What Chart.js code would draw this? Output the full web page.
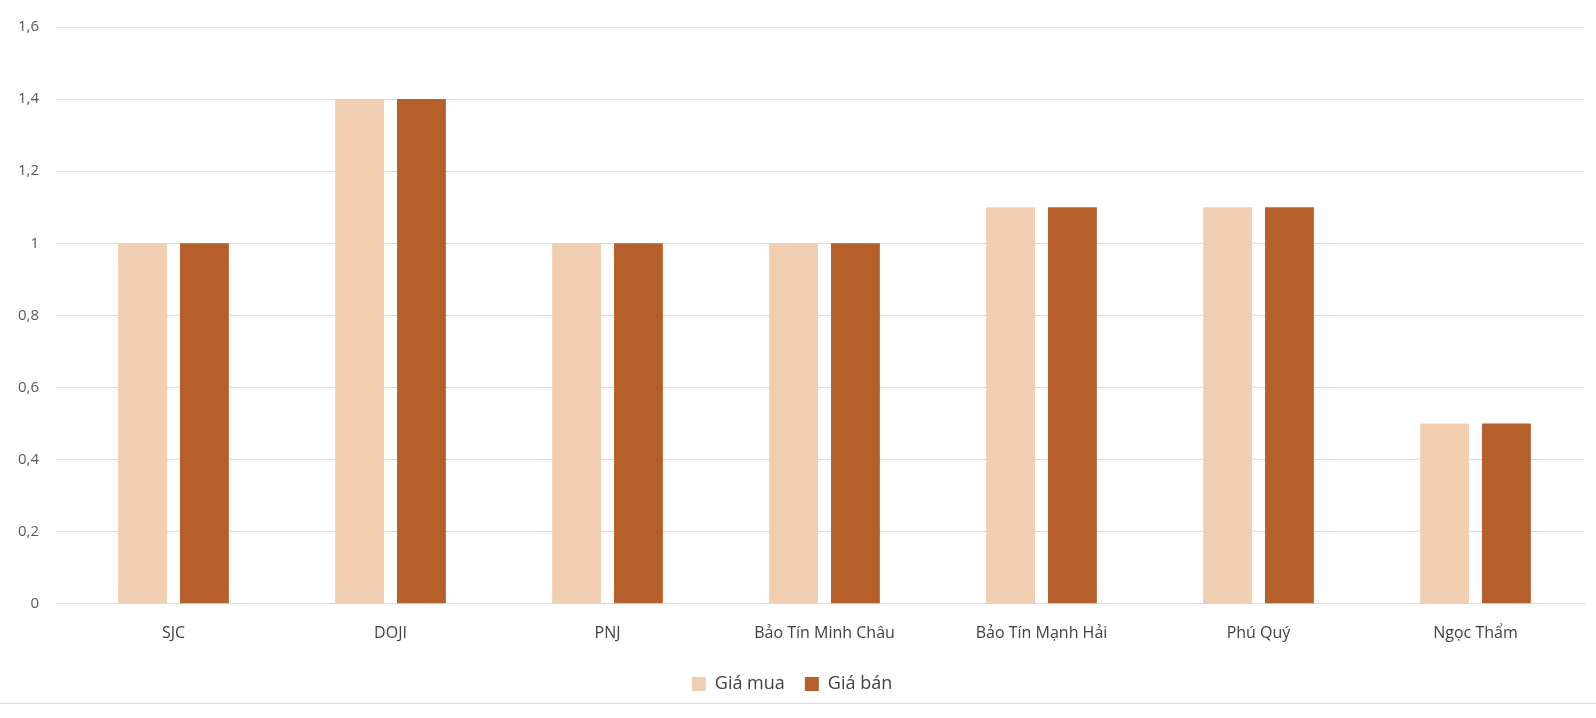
<!DOCTYPE html>
<html><head><meta charset="utf-8">
<script src="https://cdn.jsdelivr.net/npm/chart.js@4"></script>
<style>html,body{margin:0;padding:0;background:#fff}#w{width:1596px;height:718px;position:relative}#b{position:absolute;left:0;right:0;top:703px;border-top:1px solid #d9d9d9}canvas{display:block}</style>
</head><body><div id="w"><canvas id="c" width="1596" height="703"></canvas><div id="b"></div></div>
<script>
const categories=["SJC","DOJI","PNJ","Bảo Tín Minh Châu","Bảo Tín Mạnh Hải","Phú Quý","Ngọc Thẩm"];
const giaMua=[1,1.4,1,1,1.1,1.1,0.5];
const giaBan=[1,1.4,1,1,1.1,1.1,0.5];
const yTicks=[0,0.2,0.4,0.6,0.8,1,1.2,1.4,1.6];
Chart.defaults.font.family="'Open Sans', sans-serif";
Chart.defaults.font.size=15;
Chart.defaults.color="#595959";
new Chart(document.getElementById('c'),{type:'bar',
data:{labels:categories,datasets:[
{label:'Giá mua',data:giaMua,backgroundColor:'#F2CEB0',categoryPercentage:0.57,barPercentage:0.79},
{label:'Giá bán',data:giaBan,backgroundColor:'#B5602A',categoryPercentage:0.57,barPercentage:0.79}]},
options:{responsive:false,animation:false,
layout:{padding:{left:0,right:12,top:3,bottom:0}},
plugins:{legend:{position:'bottom',labels:{boxWidth:14,boxHeight:14,padding:20,font:{size:18},color:'#404040'}},tooltip:{enabled:false}},
scales:{
x:{grid:{display:false},border:{color:'#d9d9d9'},ticks:{padding:12,font:{size:16,weight:'500'},color:'#404040'}},
y:{min:0,max:1.6,afterBuildTicks:a=>{a.ticks=yTicks.map(v=>({value:v}))},
grid:{color:'#d9d9d9'},border:{display:false},
ticks:{padding:18,callback:v=>String(v).replace('.',',')}}}}});
</script></body></html>
